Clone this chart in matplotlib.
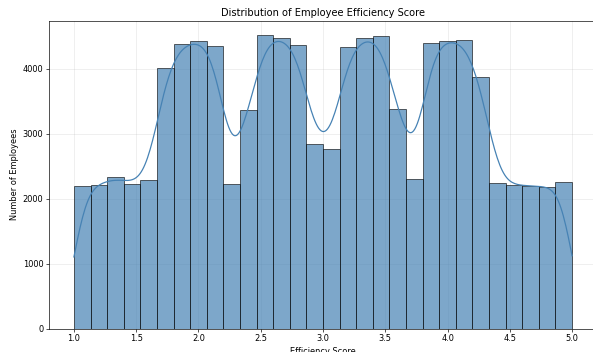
import numpy as np
import matplotlib
matplotlib.use("Agg")
import matplotlib.pyplot as plt

# histogram of efficiency scores, 30 bins over 1.0 - 5.0
score_min = 1.0
score_max = 5.0
n_bins = 30
bin_counts = [2200, 2214, 2331, 2229, 2280, 4008, 4380, 4432, 4340, 2225,
              3364, 4514, 4463, 4360, 2835, 2769, 4330, 4463, 4504, 3374,
              2296, 4396, 4432, 4443, 3863, 2239, 2203, 2198, 2172, 2250]

edges = np.linspace(score_min, score_max, n_bins + 1)
centers = (edges[:-1] + edges[1:]) / 2
counts = np.array(bin_counts, dtype=float)
bin_width = edges[1] - edges[0]

# gaussian kde of the binned data, scaled to counts per bin
bw = 0.1
grid = np.linspace(score_min, score_max, 400)
kernel = np.exp(-0.5 * ((grid[:, None] - centers[None, :]) / bw) ** 2) / (bw * np.sqrt(2 * np.pi))
kde = (kernel * counts[None, :]).sum(axis=1) * bin_width

dpi = 59.5
fig = plt.figure(figsize=(593 / dpi, 352 / dpi), dpi=dpi)
ax = fig.add_axes([49 / 593, 23.5 / 352, 548 / 593, 308 / 352])

ax.hist(centers, bins=edges, weights=counts, color="steelblue", alpha=0.7,
        edgecolor="black", linewidth=1.0)
ax.plot(grid, kde, color="steelblue", linewidth=1.5)

ax.set_xlim(0.8, 5.2)
ax.set_ylim(0, 4740)
ax.set_xticks(np.arange(1.0, 5.01, 0.5))
ax.set_yticks([0, 1000, 2000, 3000, 4000])
ax.set_title("Distribution of Employee Efficiency Score")
ax.set_xlabel("Efficiency Score")
ax.set_ylabel("Number of Employees")
ax.grid(True, alpha=0.3)
ax.set_axisbelow(True)
ax.spines["right"].set_visible(False)

fig.savefig("out.png", dpi=dpi)
